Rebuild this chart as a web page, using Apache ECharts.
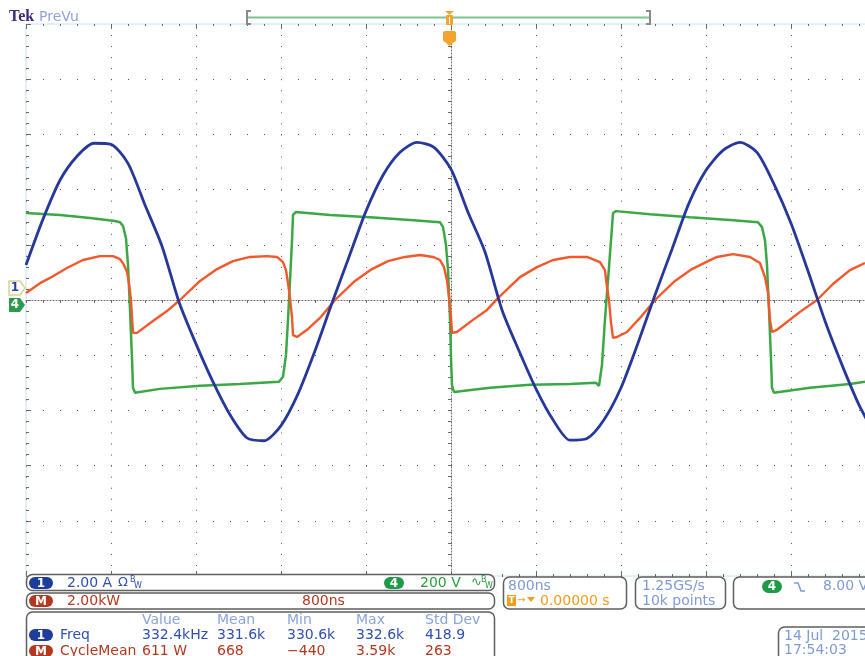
<!DOCTYPE html>
<html>
<head>
<meta charset="utf-8">
<title>Tek PreVu</title>
<script src="https://cdn.jsdelivr.net/npm/echarts@6/dist/echarts.min.js"></script>
<style>
html,body{margin:0;padding:0;background:#fff;}
#box{width:865px;height:656px;}
</style>
</head>
<body>
<div id="box"></div>
<script>
//ch1 current (A), sampled every 0.16us
var ch1Time = [-4.00,-3.84,-3.68,-3.52,-3.36,-3.20,-3.04,-2.88,-2.72,-2.56,-2.40,-2.24,-2.08,-1.92,-1.76,-1.60,-1.44,-1.28,-1.12,-0.96,-0.80,-0.64,-0.48,-0.32,-0.16,0.00,0.16,0.32,0.48,0.64,0.80,0.96,1.12,1.28,1.44,1.60,1.76,1.92,2.08,2.24,2.40,2.56,2.72,2.88,3.04,3.20,3.36,3.52,3.68,3.84,4.00];
var ch1Amps = [1.27,2.93,4.34,5.21,5.68,5.64,4.95,3.44,1.95,-0.07,-1.59,-2.97,-4.16,-5.00,-5.10,-4.55,-3.40,-1.84,-0.11,1.56,3.22,4.52,5.35,5.71,5.53,4.74,3.18,1.74,-0.36,-1.84,-3.22,-4.34,-5.08,-5.02,-4.34,-3.18,-1.56,0.18,1.84,3.51,4.70,5.42,5.71,5.35,4.20,2.78,1.05,-0.76,-2.35,-3.80,-4.95];

//ch4 voltage (V)
var ch4Time = [-4.000,-3.680,-3.398,-3.162,-3.115,-3.087,-3.059,-3.040,-3.021,-3.002,-2.993,-2.974,-2.739,-2.362,-1.986,-1.619,-1.581,-1.553,-1.534,-1.515,-1.496,-1.487,-1.459,-1.139,-0.762,-0.386,-0.104,-0.075,-0.047,-0.028,-0.009,0.000,0.009,0.028,0.367,0.744,1.120,1.365,1.393,1.421,1.449,1.478,1.506,1.525,1.553,1.873,2.249,2.626,2.889,2.927,2.955,2.974,2.993,3.012,3.021,3.040,3.379,3.755,3.896];
var ch4Volts = [322,315,304,293,289,275,231,134,-29,-210,-311,-329,-315,-304,-297,-289,-271,-192,-65,80,224,315,326,315,307,297,289,271,206,116,-65,-199,-300,-326,-311,-300,-297,-293,-304,-228,-65,80,224,322,329,318,307,297,289,271,224,134,-29,-210,-311,-329,-311,-297,-289];

//math power (kW)
var mathTime = [-4.000,-3.868,-3.774,-3.614,-3.464,-3.304,-3.181,-3.115,-3.078,-3.049,-3.031,-3.012,-3.002,-2.993,-2.955,-2.805,-2.673,-2.551,-2.362,-2.202,-2.052,-1.892,-1.732,-1.638,-1.581,-1.553,-1.534,-1.515,-1.496,-1.487,-1.449,-1.355,-1.233,-1.092,-0.904,-0.744,-0.593,-0.433,-0.292,-0.169,-0.104,-0.066,-0.038,-0.019,0.000,0.009,0.056,0.207,0.339,0.442,0.649,0.809,0.960,1.120,1.280,1.402,1.449,1.468,1.487,1.506,1.525,1.562,1.656,1.779,1.920,2.108,2.268,2.419,2.504,2.654,2.814,2.908,2.955,2.984,3.002,3.021,3.068,3.285,3.445,3.595,3.755,3.896];
var mathKW = [0.25,0.61,0.80,1.16,1.45,1.59,1.59,1.48,1.27,1.01,0.61,0.00,-0.65,-1.19,-1.19,-0.76,-0.40,0.00,0.69,1.12,1.41,1.56,1.59,1.56,1.37,1.08,0.61,0.07,-0.65,-1.27,-1.34,-1.08,-0.65,0.00,0.69,1.12,1.41,1.56,1.63,1.56,1.45,1.19,0.72,0.11,-0.61,-1.19,-1.16,-0.72,-0.36,0.07,0.83,1.19,1.45,1.56,1.56,1.37,1.08,0.47,0.00,-0.83,-1.37,-1.34,-1.16,-0.65,0.00,0.69,1.12,1.41,1.56,1.66,1.56,1.34,0.83,0.25,-0.72,-1.16,-1.08,-0.43,0.00,0.58,1.08,1.34];

//readouts
var measHeaders = ['Value','Mean','Min','Max','Std Dev'];
var freqRow = ['332.4kHz','331.6k','330.6k','332.6k','418.9'];
var cycleMeanRow = ['611 W','668','\u2212440','3.59k','263'];
var measCols = [142,217,287,356,425];

var BLUE = '#2f4fae', RED = '#b4381f', GREEN = '#2a9a3c', LIGHT = '#7f9bd6', ORANGE = '#f39c1f';
var FONT = '"DejaVu Sans"';
var tickGray = '#6a6a6a';

function pairs(xs, ys) {
	return xs.map(function (x, i) { return [x, ys[i]]; });
}

function timeAxis(extra) {
	return Object.assign({
		type:'value', min:-4, max:4, interval:0.8,
		axisLabel:{show:false},
		axisLine:{show:false, onZero:false},
		axisTick:{show:false},
		splitLine:{show:false}
	}, extra);
}
function voltAxis(extra) {
	return Object.assign({
		type:'value', min:-10, max:10, interval:2,
		axisLabel:{show:false},
		axisLine:{show:false, onZero:false},
		axisTick:{show:false},
		splitLine:{show:false}
	}, extra);
}

function txt(x, y, s, color, size, extra) {
	return {type:'text', z:100, silent:true, style:Object.assign({
		x:x, y:y, text:s, fill:color, font:(size || 14) + 'px ' + FONT, verticalAlign:'middle'
	}, extra || {})};
}
function box(x, y, w, h) {
	return {type:'rect', z:90, silent:true, shape:{x:x, y:y, width:w, height:h, r:6},
		style:{fill:'#fff', stroke:'#5e5e5e', lineWidth:1.5}};
}
function pill(x, y, w, h, color, label) {
	return [
		{type:'rect', z:95, silent:true, shape:{x:x, y:y, width:w, height:h, r:h / 2}, style:{fill:color}},
		{type:'text', z:96, silent:true, style:{x:x + w / 2, y:y + h / 2 + 0.5, text:label, fill:'#fff',
			font:'bold 12px ' + FONT, align:'center', verticalAlign:'middle'}}
	];
}
function bw(x, y, color) {
	return [txt(x, y - 3, 'B', color, 8), txt(x + 4, y + 3, 'W', color, 8)];
}

var graphics = [].concat(
	//header
	txt(9, 17, 'Tek', '#3b2878', 16, {font:'bold 16px "Liberation Serif"'}),
	txt(39, 17, 'PreVu', '#8ea3dd', 14),
	{type:'line', z:100, silent:true, shape:{x1:248, y1:17.5, x2:649, y2:17.5}, style:{stroke:'#7dc48e', lineWidth:2}},
	{type:'polyline', z:100, silent:true, shape:{points:[[251,11],[247,11],[247,24],[251,24]]}, style:{stroke:'#8a8a8a', lineWidth:2, fill:null}},
	{type:'polyline', z:100, silent:true, shape:{points:[[646,11],[650,11],[650,24],[646,24]]}, style:{stroke:'#8a8a8a', lineWidth:2, fill:null}},
	{type:'polygon', z:101, silent:true, shape:{points:[[445,11],[454,11],[449.5,15]]}, style:{fill:'#f4a42c'}},
	{type:'rect', z:101, silent:true, shape:{x:446, y:15, width:7, height:10, r:1}, style:{fill:'#f4a42c'}},
	{type:'line', z:102, silent:true, shape:{x1:449.5, y1:17, x2:449.5, y2:24}, style:{stroke:'#fff', lineWidth:1}},
	{type:'rect', z:101, silent:true, shape:{x:443, y:31, width:13, height:11, r:2}, style:{fill:'#f4a42c'}},
	{type:'polygon', z:101, silent:true, shape:{points:[[445,42],[454,42],[449.5,46]]}, style:{fill:'#f4a42c'}},
	txt(449.5, 37, 'T', '#fff', 10, {font:'bold 10px ' + FONT, align:'center'}),
	//channel markers
	{type:'polygon', z:100, silent:true, shape:{points:[[9,281],[20,281],[25,288],[20,295],[9,295]]}, style:{fill:'#fff', stroke:'#d9d38a', lineWidth:1.5}},
	txt(15, 288, '1', '#2a3f9a', 12, {font:'bold 12px ' + FONT, align:'center'}),
	{type:'polygon', z:100, silent:true, shape:{points:[[9,298],[20,298],[25,305],[20,312],[9,312]]}, style:{fill:'#2c9a4c'}},
	txt(15, 305, '4', '#fff', 12, {font:'bold 12px ' + FONT, align:'center'}),
	//vertical settings
	box(26.5, 574.5, 468, 16),
	pill(29, 577, 24, 12, '#1e3d9b', '1'),
	txt(67, 583, '2.00 A', BLUE),
	txt(118, 583, '\u03a9', BLUE, 13),
	bw(130, 583, BLUE),
	pill(384, 577, 20, 12, '#1f9a48', '4'),
	txt(420, 583, '200 V', GREEN),
	txt(471, 583, '\u223f', GREEN, 13),
	bw(481, 583, GREEN),
	box(26.5, 593, 468, 16),
	pill(29, 595, 24, 12, RED, 'M'),
	txt(67, 601, '2.00kW', RED),
	txt(302, 601, '800ns', RED),
	//measurements
	box(26.5, 612, 468, 60),
	measHeaders.map(function (s, i) { return txt(measCols[i], 620, s, '#8ba3d9'); }),
	pill(29, 629, 24, 12, '#1e3d9b', '1'),
	txt(60, 635, 'Freq', BLUE),
	freqRow.map(function (s, i) { return txt(measCols[i], 635, s, BLUE); }),
	pill(29, 645, 24, 12, RED, 'M'),
	txt(60, 651, 'CycleMean', RED),
	cycleMeanRow.map(function (s, i) { return txt(measCols[i], 651, s, RED); }),
	//horizontal / acquisition / trigger
	box(503.5, 577, 123, 32),
	txt(508, 586, '800ns', LIGHT),
	{type:'rect', z:100, silent:true, shape:{x:507, y:595, width:9, height:11}, style:{fill:ORANGE}},
	txt(511.5, 601, 'T', '#fff', 9, {font:'bold 9px ' + FONT, align:'center'}),
	txt(517, 600, '\u2192', ORANGE, 10),
	{type:'polygon', z:100, silent:true, shape:{points:[[527,597],[535,597],[531,602]]}, style:{fill:ORANGE}},
	txt(540, 601, '0.00000 s', ORANGE),
	box(635.5, 577, 90, 32),
	txt(642, 586, '1.25GS/s', LIGHT),
	txt(642, 601, '10k points', LIGHT),
	box(733.5, 577, 140, 32),
	pill(762, 580, 20, 13, '#1f9a48', '4'),
	{type:'polyline', z:100, silent:true, shape:{points:[[794,583],[798,583],[801,591],[805,591]]}, style:{stroke:LIGHT, lineWidth:1.5, fill:null}},
	txt(823, 586, '8.00 V', LIGHT),
	box(778.5, 627, 95, 40),
	txt(784, 636, '14 Jul  2015', LIGHT),
	txt(784, 650, '17:54:03', LIGHT)
);

var option = {
	animation:false,
	backgroundColor:'#fff',
	grid:{left:26, top:24, width:850, height:552, show:true, borderColor:'#c6def2', borderWidth:1, outerBoundsMode:'none', containLabel:false},
	xAxis:[
		timeAxis({
			axisLine:{show:true, onZero:true, onZeroAxisIndex:0, lineStyle:{color:tickGray, type:[1,2]}},
			axisTick:{show:true, inside:false, length:3, lineStyle:{color:tickGray}},
			minorTick:{show:true, splitNumber:5, length:3, lineStyle:{color:tickGray}},
			splitLine:{show:true, lineStyle:{color:'#555', type:[1,10.04]}}
		}),
		timeAxis({
			axisLine:{show:false, onZero:true, onZeroAxisIndex:0},
			axisTick:{show:true, inside:true, length:3, lineStyle:{color:tickGray}},
			minorTick:{show:true, splitNumber:5, length:3, lineStyle:{color:tickGray}}
		}),
		timeAxis({
			position:'top',
			axisTick:{show:true, inside:true, length:5, lineStyle:{color:tickGray}},
			minorTick:{show:true, splitNumber:5, length:2, lineStyle:{color:tickGray}}
		}),
		timeAxis({
			position:'bottom',
			axisTick:{show:true, inside:true, length:5, lineStyle:{color:tickGray}},
			minorTick:{show:true, splitNumber:5, length:2, lineStyle:{color:tickGray}}
		})
	],
	yAxis:[
		voltAxis({
			axisLine:{show:true, onZero:true, onZeroAxisIndex:0, lineStyle:{color:tickGray, type:[1,2]}},
			axisTick:{show:true, inside:false, length:3, lineStyle:{color:tickGray}},
			minorTick:{show:true, splitNumber:5, length:3, lineStyle:{color:tickGray}},
			splitLine:{show:true, lineStyle:{color:'#555', type:[1,16]}}
		}),
		voltAxis({
			axisLine:{show:false, onZero:true, onZeroAxisIndex:0},
			axisTick:{show:true, inside:true, length:3, lineStyle:{color:tickGray}},
			minorTick:{show:true, splitNumber:5, length:3, lineStyle:{color:tickGray}}
		}),
		voltAxis({
			position:'left',
			axisTick:{show:true, inside:true, length:5, lineStyle:{color:tickGray}},
			minorTick:{show:true, splitNumber:5, length:3, lineStyle:{color:tickGray}}
		}),
		//ch4 200 V/div, ground a little below centre
		{type:'value', show:false, min:-993, max:1007},
		//math 2 kW/div
		{type:'value', show:false, min:-10, max:10}
	],
	series:[
		{
			name:'4', type:'line', xAxisIndex:0, yAxisIndex:3, silent:true,
			data:pairs(ch4Time, ch4Volts), showSymbol:false,
			lineStyle:{color:'#3aa845', width:2.5}, z:3
		},
		{
			name:'M', type:'line', xAxisIndex:0, yAxisIndex:4, silent:true,
			data:pairs(mathTime, mathKW), showSymbol:false,
			lineStyle:{color:'#f2582a', width:2.4}, z:4
		},
		{
			name:'1', type:'line', xAxisIndex:0, yAxisIndex:0, silent:true,
			data:pairs(ch1Time, ch1Amps), showSymbol:false, smooth:0.25,
			lineStyle:{color:'#26399a', width:2.8}, z:5
		}
	],
	graphic:graphics
};

var scope = echarts.init(document.getElementById('box'));
scope.setOption(option);
</script>
</body>
</html>
